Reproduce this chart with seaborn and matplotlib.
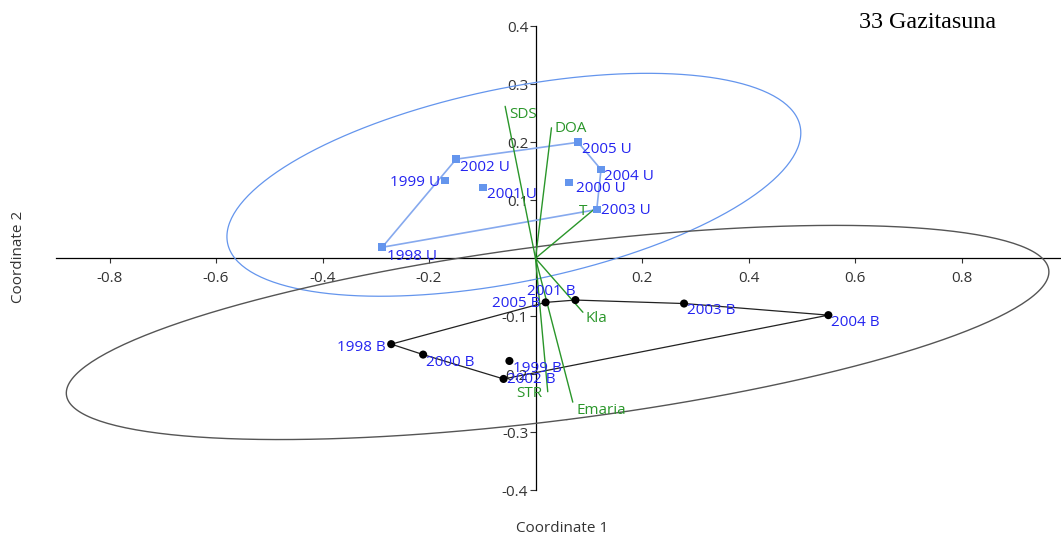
import numpy as np
import pandas as pd
import matplotlib
matplotlib.use("Agg")
import matplotlib.pyplot as plt
import seaborn as sns

# ---------------- data ----------------
u_labels = ["1998 U", "1999 U", "2000 U", "2001 U", "2002 U", "2003 U", "2004 U", "2005 U"]
u_x = [-0.288, -0.170, 0.063, -0.099, -0.149, 0.115, 0.123, 0.080]
u_y = [0.019, 0.134, 0.131, 0.122, 0.171, 0.084, 0.153, 0.200]

b_labels = ["1998 B", "1999 B", "2000 B", "2001 B", "2002 B", "2003 B", "2004 B", "2005 B"]
b_x = [-0.271, -0.049, -0.211, 0.075, -0.060, 0.279, 0.550, 0.019]
b_y = [-0.148, -0.177, -0.166, -0.072, -0.208, -0.078, -0.098, -0.076]

var_labels = ["SDS", "DOA", "T", "Kla", "Emaria", "STR"]
var_x = [-0.057, 0.030, 0.112, 0.089, 0.070, 0.023]
var_y = [0.262, 0.225, 0.086, -0.093, -0.248, -0.230]

x_ticks = [-0.8, -0.6, -0.4, -0.2, 0.2, 0.4, 0.6, 0.8]
y_ticks = [-0.4, -0.3, -0.2, -0.1, 0.1, 0.2, 0.3, 0.4]

title = "33 Gazitasuna"
x_title = "Coordinate 1"
y_title = "Coordinate 2"

# ---------------- styles: label offsets in pixels (dx right, dy down), alignment ----------------
label_style = {
    "1998 U": ("left", 5, 9), "1999 U": ("right", -5, 2), "2000 U": ("left", 7, 6),
    "2001 U": ("left", 4, 7), "2002 U": ("left", 4, 8), "2003 U": ("left", 4, 1),
    "2004 U": ("left", 3, 7), "2005 U": ("left", 4, 7),
    "1998 B": ("right", -5, 3), "1999 B": ("left", 4, 8), "2000 B": ("left", 3, 8),
    "2001 B": ("right", 0, -9), "2002 B": ("left", 3, 1), "2003 B": ("left", 3, 7),
    "2004 B": ("left", 3, 7), "2005 B": ("right", -5, 1),
    "SDS": ("left", 4, 8), "DOA": ("left", 3, 1), "T": ("right", -8, 3),
    "Kla": ("left", 3, 6), "Emaria": ("left", 4, 8), "STR": ("right", -5, 2),
}

U_COLOR = "#6495ED"
U_HULL = "#86a9ee"
B_COLOR = "#000000"
B_ELL = "#555555"
LBL = "#2424f0"
GREEN = "#2a962a"


def ellipse95(x, y, n_pts=300):
    x = np.asarray(x, float)
    y = np.asarray(y, float)
    n = len(x)
    cov = np.cov(x, y)
    k = n - 2
    f = (k / 2.0) * (0.05 ** (-2.0 / k) - 1.0)  # F(0.95; 2, n-2)
    c = np.sqrt(2.0 * (n - 1) / (n - 2) * f)
    vals, vecs = np.linalg.eigh(cov)
    t = np.linspace(0, 2 * np.pi, n_pts)
    pts = vecs @ (np.sqrt(vals)[:, None] * np.vstack([np.cos(t), np.sin(t)])) * c
    return x.mean() + pts[0], y.mean() + pts[1]


def convex_hull(x, y):
    pts = sorted(zip(x, y))

    def cross(o, a, b):
        return (a[0] - o[0]) * (b[1] - o[1]) - (a[1] - o[1]) * (b[0] - o[0])

    lower, upper = [], []
    for p in pts:
        while len(lower) >= 2 and cross(lower[-2], lower[-1], p) <= 0:
            lower.pop()
        lower.append(p)
    for p in reversed(pts):
        while len(upper) >= 2 and cross(upper[-2], upper[-1], p) <= 0:
            upper.pop()
        upper.append(p)
    hull = lower[:-1] + upper[:-1]
    hull.append(hull[0])
    return [p[0] for p in hull], [p[1] for p in hull]


sns.set_theme(style="white")
plt.rcParams["font.family"] = ["Open Sans", "DejaVu Sans"]

W, H = 1061, 539
fig = plt.figure(figsize=(W / 100, H / 100), dpi=100)
ax_left, ax_bottom_px, ax_top_px = 56.25, 490.3, 26.3
ax = fig.add_axes([ax_left / W, (H - ax_bottom_px) / H, (W - ax_left) / W,
                   (ax_bottom_px - ax_top_px) / H])
ax.set_xlim(-0.9, (W - 535.5) / 532.5)
ax.set_ylim(-0.4, 0.4)

# ellipses
ex, ey = ellipse95(u_x, u_y)
ax.plot(ex, ey, color=U_COLOR, lw=0.9, zorder=2)
ex, ey = ellipse95(b_x, b_y)
ax.plot(ex, ey, color=B_ELL, lw=1.0, zorder=2)

# convex hulls
hx, hy = convex_hull(u_x, u_y)
ax.plot(hx, hy, color=U_HULL, lw=1.2, zorder=3)
hx, hy = convex_hull(b_x, b_y)
ax.plot(hx, hy, color="#222222", lw=0.9, zorder=3)

# biplot vectors
for vx, vy in zip(var_x, var_y):
    ax.plot([0, vx], [0, vy], color=GREEN, lw=1.0, zorder=4)

# points
df_u = pd.DataFrame({"x": u_x, "y": u_y})
df_b = pd.DataFrame({"x": b_x, "y": b_y})
sns.scatterplot(data=df_u, x="x", y="y", marker="s", s=30, color=U_COLOR,
                edgecolor="none", ax=ax, zorder=5)
sns.scatterplot(data=df_b, x="x", y="y", marker="o", s=34, color=B_COLOR,
                edgecolor="none", ax=ax, zorder=5)


def put_label(txt, x, y, color):
    ha, dx, dy = label_style[txt]
    ax.annotate(txt, (x, y), xytext=(dx, -dy), textcoords="offset pixels",
                ha=ha, va="center", fontsize=11, color=color, zorder=6)


for t, x, y in zip(u_labels, u_x, u_y):
    put_label(t, x, y, LBL)
for t, x, y in zip(b_labels, b_x, b_y):
    put_label(t, x, y, LBL)
for t, x, y in zip(var_labels, var_x, var_y):
    put_label(t, x, y, GREEN)

# axes through origin
for s in ["top", "right"]:
    ax.spines[s].set_visible(False)
for s in ["left", "bottom"]:
    ax.spines[s].set_position(("data", 0))
    ax.spines[s].set_color("black")
    ax.spines[s].set_linewidth(0.9)
    ax.spines[s].set_zorder(1)
ax.set_xticks(x_ticks)
ax.set_yticks(y_ticks)
ax.set_xticklabels([f"{v:g}" for v in x_ticks])
ax.set_yticklabels([f"{v:g}" for v in y_ticks])
ax.tick_params(axis="x", direction="out", length=3.4, width=0.8, pad=6,
               labelsize=11, colors="#333333", bottom=True)
ax.tick_params(axis="y", direction="out", length=4.3, width=0.8, pad=1,
               labelsize=11, colors="#333333", left=True)
ax.set_xlabel("")
ax.set_ylabel("")
ax.patch.set_alpha(0)

fig.text(562 / W, 1 - 528 / H, x_title, ha="center", va="center", fontsize=11, color="#333333")
fig.text(18.5 / W, 1 - 257 / H, y_title, ha="center", va="center", rotation=90,
         fontsize=11, color="#333333")
fig.text(859 / W, 1 - 28.3 / H, title, ha="left", va="baseline", fontsize=17.3,
         family=["Liberation Serif", "DejaVu Serif"], color="black")

fig.savefig("out.png", dpi=100, facecolor="white")
